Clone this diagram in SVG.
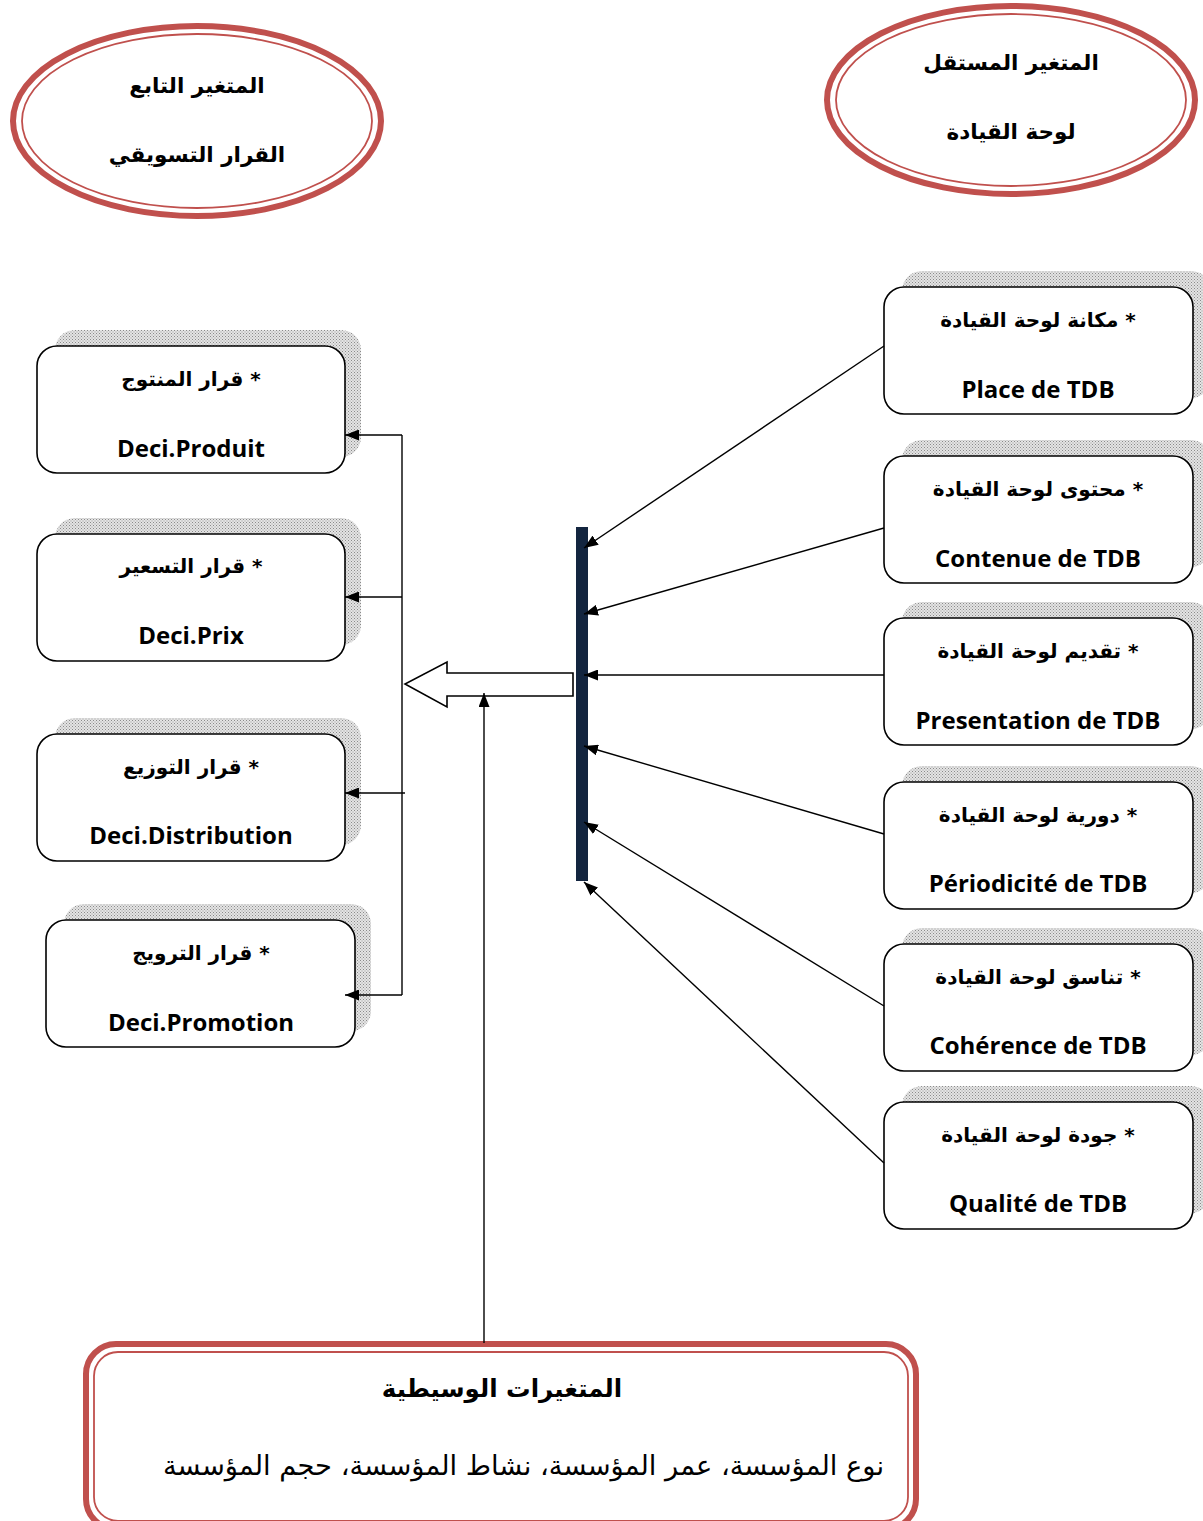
<svg xmlns="http://www.w3.org/2000/svg" width="1203" height="1521" viewBox="0 0 1203 1521">
  <defs>
    <pattern id="dots" width="3" height="3" patternUnits="userSpaceOnUse">
      <rect width="3" height="3" fill="#e4e4e4"/>
      <rect width="1" height="1" fill="#8a8a8a"/>
      <rect x="1.5" y="1.5" width="1" height="1" fill="#9a9a9a"/>
    </pattern>
    <marker id="ah" viewBox="0 0 14 11" refX="14" refY="5.5" markerWidth="14" markerHeight="11" markerUnits="userSpaceOnUse" orient="auto">
      <path d="M0,0 L14,5.5 L0,11 Z" fill="#000"/>
    </marker>
    <style>
      .ar { font-family: "DejaVu Sans", "Noto Sans", sans-serif; font-weight: bold; fill: #000; }
      .lat { font-family: "Open Sans", "Noto Sans", sans-serif; font-weight: bold; fill: #000; }
      .box { fill: #fff; stroke: #000; stroke-width: 1.6; }
      .shadow { fill: url(#dots); }
      .ring-outer { fill: none; stroke: #c0504d; stroke-width: 6; }
      .ring-inner { fill: none; stroke: #c0504d; stroke-width: 1.8; }
      .link { fill: none; stroke: #000; stroke-width: 1.4; }
    </style>
  </defs>
  <rect width="1203" height="1521" fill="#fff"/>

  <!-- dependent variable ellipse -->
  <g id="dependent">
    <ellipse cx="197" cy="121" rx="184" ry="95" class="ring-outer"/>
    <ellipse cx="197" cy="121" rx="175" ry="87" class="ring-inner"/>
    <text x="197" y="93" text-anchor="middle" direction="rtl" class="ar" font-size="21.5">المتغير التابع</text>
    <text x="197" y="162" text-anchor="middle" direction="rtl" class="ar" font-size="21.5">القرار التسويقي</text>
  </g>

  <!-- independent variable ellipse -->
  <g id="independent">
    <ellipse cx="1011" cy="100" rx="184" ry="94" class="ring-outer"/>
    <ellipse cx="1011" cy="100" rx="175" ry="86" class="ring-inner"/>
    <text x="1011" y="70" text-anchor="middle" direction="rtl" class="ar" font-size="21.5">المتغير المستقل</text>
    <text x="1011" y="139" text-anchor="middle" direction="rtl" class="ar" font-size="21.5">لوحة القيادة</text>
  </g>

  <!-- dashboard dimensions (right column) -->
  <g id="place">
    <rect x="902" y="271" width="309" height="127" rx="20" class="shadow"/>
    <rect x="884" y="287" width="309" height="127" rx="20" class="box"/>
    <text x="1038" y="327" text-anchor="middle" direction="rtl" class="ar" font-size="20">* مكانة لوحة القيادة</text>
    <text x="1038" y="398" text-anchor="middle" class="lat" font-size="24">Place de TDB</text>
  </g>
  <g id="contenue">
    <rect x="902" y="440" width="309" height="127" rx="20" class="shadow"/>
    <rect x="884" y="456" width="309" height="127" rx="20" class="box"/>
    <text x="1038" y="496" text-anchor="middle" direction="rtl" class="ar" font-size="20">* محتوى لوحة القيادة</text>
    <text x="1038" y="567" text-anchor="middle" class="lat" font-size="24">Contenue de TDB</text>
  </g>
  <g id="presentation">
    <rect x="902" y="602" width="309" height="127" rx="20" class="shadow"/>
    <rect x="884" y="618" width="309" height="127" rx="20" class="box"/>
    <text x="1038" y="658" text-anchor="middle" direction="rtl" class="ar" font-size="20">* تقديم لوحة القيادة</text>
    <text x="1038" y="729" text-anchor="middle" class="lat" font-size="24">Presentation de TDB</text>
  </g>
  <g id="periodicite">
    <rect x="902" y="766" width="309" height="127" rx="20" class="shadow"/>
    <rect x="884" y="782" width="309" height="127" rx="20" class="box"/>
    <text x="1038" y="822" text-anchor="middle" direction="rtl" class="ar" font-size="20">* دورية لوحة القيادة</text>
    <text x="1038" y="892" text-anchor="middle" class="lat" font-size="24">Périodicité de TDB</text>
  </g>
  <g id="coherence">
    <rect x="902" y="928" width="309" height="127" rx="20" class="shadow"/>
    <rect x="884" y="944" width="309" height="127" rx="20" class="box"/>
    <text x="1038" y="984" text-anchor="middle" direction="rtl" class="ar" font-size="20">* تناسق لوحة القيادة</text>
    <text x="1038" y="1054" text-anchor="middle" class="lat" font-size="24">Cohérence de TDB</text>
  </g>
  <g id="qualite">
    <rect x="902" y="1086" width="309" height="127" rx="20" class="shadow"/>
    <rect x="884" y="1102" width="309" height="127" rx="20" class="box"/>
    <text x="1038" y="1142" text-anchor="middle" direction="rtl" class="ar" font-size="20">* جودة لوحة القيادة</text>
    <text x="1038" y="1212" text-anchor="middle" class="lat" font-size="24">Qualité de TDB</text>
  </g>

  <!-- marketing decisions (left column) -->
  <g id="produit">
    <rect x="55" y="330" width="306" height="127" rx="20" class="shadow"/>
    <rect x="37" y="346" width="308" height="127" rx="20" class="box"/>
    <text x="191" y="386" text-anchor="middle" direction="rtl" class="ar" font-size="20">* قرار المنتوج</text>
    <text x="191" y="457" text-anchor="middle" class="lat" font-size="24">Deci.Produit</text>
  </g>
  <g id="prix">
    <rect x="55" y="518" width="306" height="127" rx="20" class="shadow"/>
    <rect x="37" y="534" width="308" height="127" rx="20" class="box"/>
    <text x="191" y="573" text-anchor="middle" direction="rtl" class="ar" font-size="20">* قرار التسعير</text>
    <text x="191" y="644" text-anchor="middle" class="lat" font-size="24">Deci.Prix</text>
  </g>
  <g id="distribution">
    <rect x="55" y="718" width="306" height="127" rx="20" class="shadow"/>
    <rect x="37" y="734" width="308" height="127" rx="20" class="box"/>
    <text x="191" y="774" text-anchor="middle" direction="rtl" class="ar" font-size="20">* قرار التوزيع</text>
    <text x="191" y="844" text-anchor="middle" class="lat" font-size="24">Deci.Distribution</text>
  </g>
  <g id="promotion">
    <rect x="64" y="904" width="307" height="127" rx="20" class="shadow"/>
    <rect x="46" y="920" width="309" height="127" rx="20" class="box"/>
    <text x="201" y="960" text-anchor="middle" direction="rtl" class="ar" font-size="20">* قرار الترويج</text>
    <text x="201" y="1031" text-anchor="middle" class="lat" font-size="24">Deci.Promotion</text>
  </g>

  <!-- moderating variables -->
  <g id="moderators">
    <rect x="86" y="1344" width="830" height="185" rx="30" class="ring-outer"/>
    <rect x="94" y="1352" width="814" height="169" rx="24" class="ring-inner"/>
    <text x="502" y="1397" text-anchor="middle" direction="rtl" class="ar" font-size="24.5">المتغيرات الوسيطية</text>
    <text x="884" y="1475" text-anchor="start" direction="rtl" font-family="'DejaVu Sans', sans-serif" font-size="27.3" fill="#000">نوع المؤسسة، عمر المؤسسة، نشاط المؤسسة، حجم المؤسسة</text>
  </g>

  <!-- collector bar -->
  <g id="bar">
    <rect x="576" y="527" width="12" height="354" fill="#13253f"/>
  </g>

  <g id="connectors">
    <!-- dimensions into the bar -->
    <line x1="884" y1="346" x2="584" y2="548" class="link" marker-end="url(#ah)"/>
    <line x1="884" y1="528" x2="584" y2="614" class="link" marker-end="url(#ah)"/>
    <line x1="884" y1="675" x2="584" y2="675" class="link" marker-end="url(#ah)"/>
    <line x1="884" y1="834" x2="584" y2="746" class="link" marker-end="url(#ah)"/>
    <line x1="884" y1="1006" x2="584" y2="822" class="link" marker-end="url(#ah)"/>
    <line x1="884" y1="1163" x2="584" y2="882" class="link" marker-end="url(#ah)"/>

    <!-- hollow block arrow toward decisions -->
    <path d="M573,673 L447,673 L447,662 L405,684 L447,707 L447,696 L573,696 Z" fill="#fff" stroke="#000" stroke-width="1.6" stroke-linejoin="miter"/>

    <!-- distribution spine to decisions -->
    <line x1="402" y1="435" x2="402" y2="995" class="link"/>
    <line x1="402" y1="435" x2="345" y2="435" class="link" marker-end="url(#ah)"/>
    <line x1="402" y1="597" x2="345" y2="597" class="link" marker-end="url(#ah)"/>
    <line x1="405" y1="793" x2="345" y2="793" class="link" marker-end="url(#ah)"/>
    <line x1="402" y1="995" x2="345" y2="995" class="link" marker-end="url(#ah)"/>

    <!-- moderators up to the block arrow -->
    <line x1="484" y1="1343" x2="484" y2="693" class="link" marker-end="url(#ah)"/>
  </g>
</svg>
